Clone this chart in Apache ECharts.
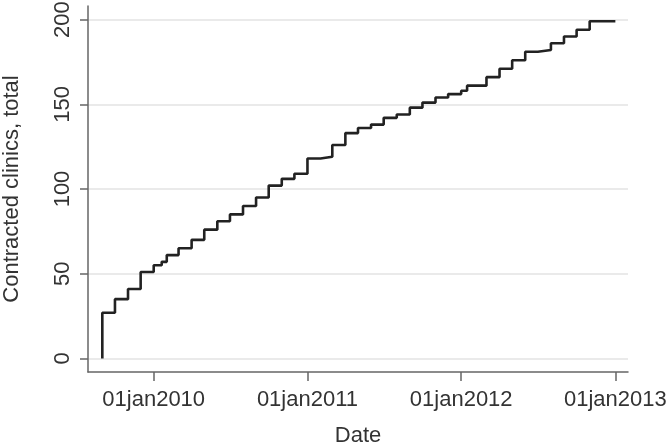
<!DOCTYPE html>
<html>
<head>
<meta charset="utf-8">
<script src="https://cdn.jsdelivr.net/npm/echarts@6/dist/echarts.min.js"></script>
<style>html,body{margin:0;padding:0;background:#fff}#c{width:668px;height:445px}</style>
</head>
<body>
<div id="c"></div>
<script>
const dates = ['2009-09-01','2009-09-01','2009-10-01','2009-11-01','2009-12-01',
  '2010-01-01','2010-01-20','2010-02-01','2010-03-01','2010-04-01','2010-05-01','2010-06-01',
  '2010-07-01','2010-08-01','2010-09-01','2010-10-01','2010-11-01','2010-12-01',
  '2011-01-01','2011-02-01','2011-03-01','2011-04-01','2011-05-01','2011-06-01',
  '2011-07-01','2011-08-01','2011-09-01','2011-10-01','2011-11-01','2011-12-01',
  '2012-01-01','2012-01-15','2012-03-01','2012-04-01','2012-05-01','2012-06-01',
  '2012-07-01','2012-08-01','2012-09-01','2012-10-01','2012-11-01','2013-01-01'];
const counts = [0,27,35,41,51,
  55,57,61,65,70,76,81,
  85,90,95,102,106,109,
  118,119,126,133,136,138,
  142,144,148,151,154,156,
  158,161,166,171,176,181,
  182,186,190,194,199,199];
const xTickDates = ['2010-01-01','2011-01-01','2012-01-01','2013-01-01'];
const xTickLabels = ['01jan2010','01jan2011','01jan2012','01jan2013'];
const yTicks = [0,50,100,150,200];

function ts(s){ const p = s.split('-').map(Number); return Date.UTC(p[0], p[1]-1, p[2]) / 86400000; }
const xTickTs = xTickDates.map(ts);
const seriesData = dates.map((d,i) => [ts(d), counts[i]]);

const font = "'Liberation Sans', Arial, Helvetica, sans-serif";
const fs = 22;
const chart = echarts.init(document.getElementById('c'), null, {renderer:'canvas'});
chart.setOption({
  animation: false,
  backgroundColor: '#fff',
  textStyle: {fontFamily: font},
  grid: {left: 88, right: 40, top: 6, bottom: 73, containLabel: false, outerBoundsMode: 'none'},
  xAxis: {
    type: 'value',
    min: ts('2009-07-29'),
    max: ts('2013-01-31'),
    name: 'Date',
    nameLocation: 'middle',
    nameGap: 53,
    nameTextStyle: {fontSize: fs, color: '#333', fontFamily: font},
    axisLine: {show: true, onZero: false, lineStyle: {color: '#666', width: 1.5}},
    axisTick: {show: true, length: 9, customValues: xTickTs, lineStyle: {color: '#666', width: 1.5}},
    axisLabel: {
      customValues: xTickTs,
      margin: 17,
      fontSize: fs,
      color: '#333',
      fontFamily: font,
      formatter: function(v){ const i = xTickTs.indexOf(v); return i >= 0 ? xTickLabels[i] : ''; }
    },
    splitLine: {show: false}
  },
  yAxis: {
    type: 'value',
    min: -8,
    max: 208,
    name: 'Contracted clinics, total',
    nameLocation: 'middle',
    nameGap: 65,
    nameTextStyle: {fontSize: fs, color: '#333', fontFamily: font},
    axisLine: {show: true, onZero: false, lineStyle: {color: '#666', width: 1.5}},
    axisTick: {show: true, length: 8, customValues: yTicks, lineStyle: {color: '#666', width: 1.5}},
    axisLabel: {
      customValues: yTicks,
      rotate: 90,
      margin: 14,
      fontSize: fs,
      color: '#333',
      fontFamily: font
    },
    splitLine: {show: true, lineStyle: {color: '#eaeaea', width: 2}}
  },
  series: [{
    type: 'line',
    step: 'end',
    data: seriesData,
    showSymbol: false,
    symbol: 'none',
    lineStyle: {color: '#222', width: 2.6},
    silent: true
  }]
});
</script>
</body>
</html>
